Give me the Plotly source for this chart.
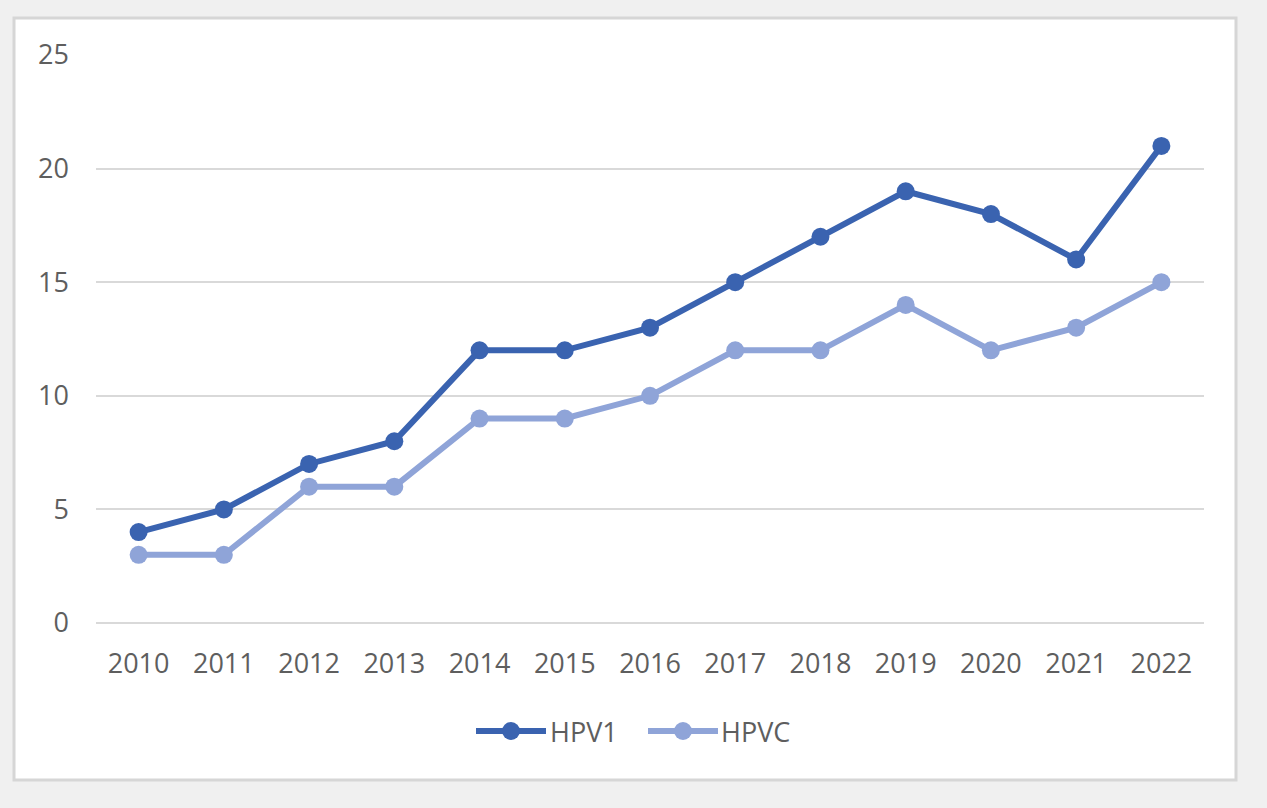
import plotly.graph_objects as go

# data
years = ["2010", "2011", "2012", "2013", "2014", "2015", "2016",
         "2017", "2018", "2019", "2020", "2021", "2022"]
hpv1 = [4, 5, 7, 8, 12, 12, 13, 15, 17, 19, 18, 16, 21]
hpvc = [3, 3, 6, 6, 9, 9, 10, 12, 12, 14, 12, 13, 15]

series_names = ["HPV1", "HPVC"]
series_colors = ["#3A63B0", "#8FA4D8"]

W, H = 1267, 808
L, R, T, B = 96, 1204, 55, 623  # plot area in pixels
FONT_SIZE = 27


def px_x(x):
    return (x - L) / (R - L)


def px_y(y):
    return (B - y) / (B - T)


fig = go.Figure()
for name, vals, col in zip(series_names, [hpv1, hpvc], series_colors):
    fig.add_trace(go.Scatter(
        x=years, y=vals, name=name, mode="lines+markers",
        line=dict(color=col, width=6),
        marker=dict(color=col, size=18),
        showlegend=False, hoverinfo="skip",
    ))

shapes = [
    # white chart panel with thin grey frame
    dict(type="rect", xref="paper", yref="paper",
         x0=px_x(14), x1=px_x(1236), y0=px_y(780), y1=px_y(18),
         fillcolor="white", line=dict(color="#D6D6D6", width=3), layer="below"),
]
annotations = []

# hand drawn legend (longer line samples than plotly's own legend)
legend_items = [(476, 546, 548), (648, 718, 719)]
for (lx0, lx1, tx), name, col in zip(legend_items, series_names, series_colors):
    ly = px_y(731)
    shapes.append(dict(type="line", xref="paper", yref="paper",
                       x0=px_x(lx0), x1=px_x(lx1), y0=ly, y1=ly,
                       line=dict(color=col, width=6)))
    shapes.append(dict(type="circle", xref="paper", yref="paper",
                       xsizemode="pixel", ysizemode="pixel",
                       xanchor=px_x((lx0 + lx1) / 2), yanchor=ly,
                       x0=-9, x1=9, y0=-9, y1=9,
                       fillcolor=col, line=dict(color=col, width=0)))
    annotations.append(dict(xref="paper", yref="paper", x=px_x(tx), y=ly,
                            text=name, showarrow=False, xanchor="left",
                            yanchor="middle",
                            font=dict(size=FONT_SIZE, color="#5E5E5E")))

fig.update_layout(
    width=W, height=H,
    margin=dict(l=L, r=W - R, t=T, b=H - B),
    paper_bgcolor="#F0F0F0",
    plot_bgcolor="white",
    font=dict(family="Open Sans, Noto Sans, sans-serif", size=FONT_SIZE, color="#5E5E5E"),
    shapes=shapes,
    annotations=annotations,
    xaxis=dict(
        type="category", range=[-0.5, 12.5],
        showgrid=False, showline=False, zeroline=False,
        ticks="", ticklabelstandoff=22,
        tickfont=dict(size=FONT_SIZE, color="#5E5E5E"),
    ),
    yaxis=dict(
        range=[0, 25], dtick=5, tick0=0,
        showgrid=True, gridcolor="#D9D9D9", gridwidth=2,
        zeroline=True, zerolinecolor="#D9D9D9", zerolinewidth=2,
        showline=False, ticks="", ticklabelstandoff=26,
        tickfont=dict(size=FONT_SIZE, color="#5E5E5E"),
    ),
)

# drop the default page margin so the figure sits at the window corner
fig.write_html("out.html", config={"displayModeBar": False},
               post_script="document.body.style.margin = '0';")
